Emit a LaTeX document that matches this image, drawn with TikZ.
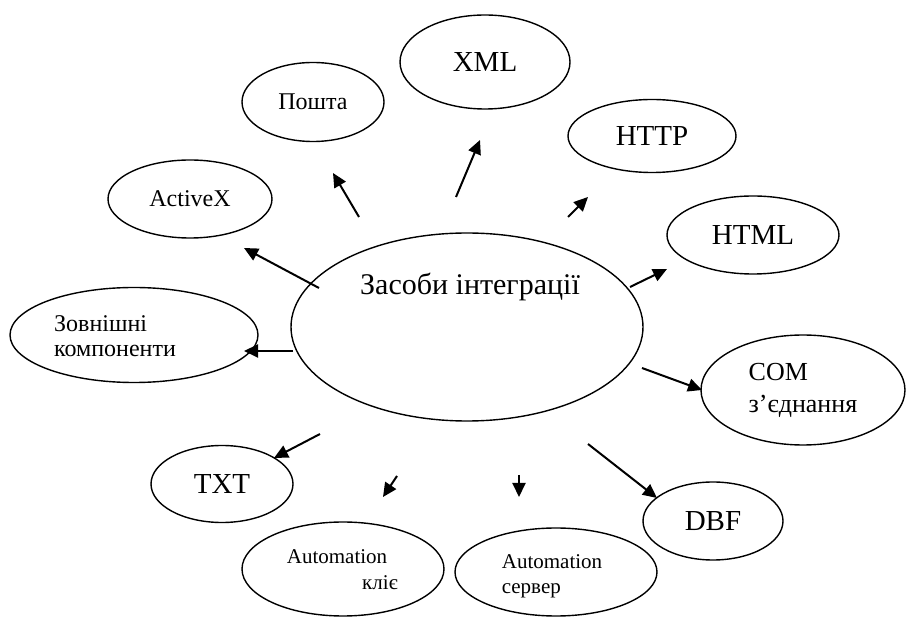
\documentclass[tikz,border=0pt]{standalone}
\usepackage{fontspec}
\setmainfont{Liberation Serif}
\usetikzlibrary{shapes.geometric, arrows.meta, calc}

\begin{document}
\begin{tikzpicture}[x=1pt, y=-1pt,
  bub/.style={draw, ellipse, line width=1.4pt, inner sep=0pt},
  big/.style={font=\fontsize{29}{32}\selectfont},
  small/.style={font=\fontsize{24}{25}\selectfont},
  tiny/.style={font=\fontsize{21}{25}\selectfont},
  arr/.style={-{Triangle[length=14pt,width=13pt]}, line width=2pt}]
\useasboundingbox (0,0) rectangle (906,617);

\node [bub, minimum width=352, minimum height=188] (c) at (467,327) {};
\node [font=\fontsize{30}{32}\selectfont] (ctext) at (470,287) {Засоби інтеграції};

\node [bub, small, minimum width=142, minimum height=79] (poshta) at (313,102) {Пошта};
\node [bub, big, minimum width=170, minimum height=94] (xml) at (485,62) {XML};
\node [bub, big, minimum width=168, minimum height=73] (http) at (652,136) {HTTP};
\node [bub, big, minimum width=172, minimum height=78] (html) at (753,235) {HTML};
\node [bub, small, minimum width=164, minimum height=78] (activex) at (190,199) {ActiveX};
\node [bub, minimum width=248, minimum height=95] (zovn) at (134,335) {};
\node [small, align=left] (zovntext) at (115,336) {Зовнішні\\компоненти};
\node [bub, font=\fontsize{26}{32}\selectfont, align=left, minimum width=204, minimum height=110] (com) at (803,390) {COM\\з’єднання};
\node [bub, big, minimum width=142, minimum height=77] (txt) at (222,484) {TXT};
\node [bub, big, minimum width=140, minimum height=78] (dbf) at (713,521) {DBF};
\node [bub, minimum width=202, minimum height=94] (client) at (343,569) {};
\node [tiny] (clienta) at (337,557) {Automation};
\node [tiny] (clientb) at (380,583) {кліє};
\node [bub, minimum width=202, minimum height=88] (server) at (556,572) {};
\node [tiny, align=left] (servertext) at (552,576) {Automation\\сервер};

\coordinate (s-activex) at (319,288); \coordinate (e-activex) at (244,248);
\coordinate (s-poshta) at (359,217);  \coordinate (e-poshta) at (333,173);
\coordinate (s-xml) at (456,197);     \coordinate (e-xml) at (480,140);
\coordinate (s-http) at (568,217);    \coordinate (e-http) at (588,197);
\coordinate (s-html) at (630,287);    \coordinate (e-html) at (667,269);
\coordinate (s-zovn) at (293,351);    \coordinate (e-zovn) at (244,351);
\coordinate (s-com) at (642,368);     \coordinate (e-com) at (702,390);
\coordinate (s-dbf) at (588,444);     \coordinate (e-dbf) at (657,498);
\coordinate (s-server) at (519,475);  \coordinate (e-server) at (519,497);
\coordinate (s-client) at (397,476);  \coordinate (e-client) at (383,497);
\coordinate (s-txt) at (320,434);     \coordinate (e-txt) at (274,458);

\foreach \n in {activex, poshta, xml, http, html, zovn, com, dbf, server, client, txt}
  \draw [arr] (s-\n) -- (e-\n);
\end{tikzpicture}
\end{document}
